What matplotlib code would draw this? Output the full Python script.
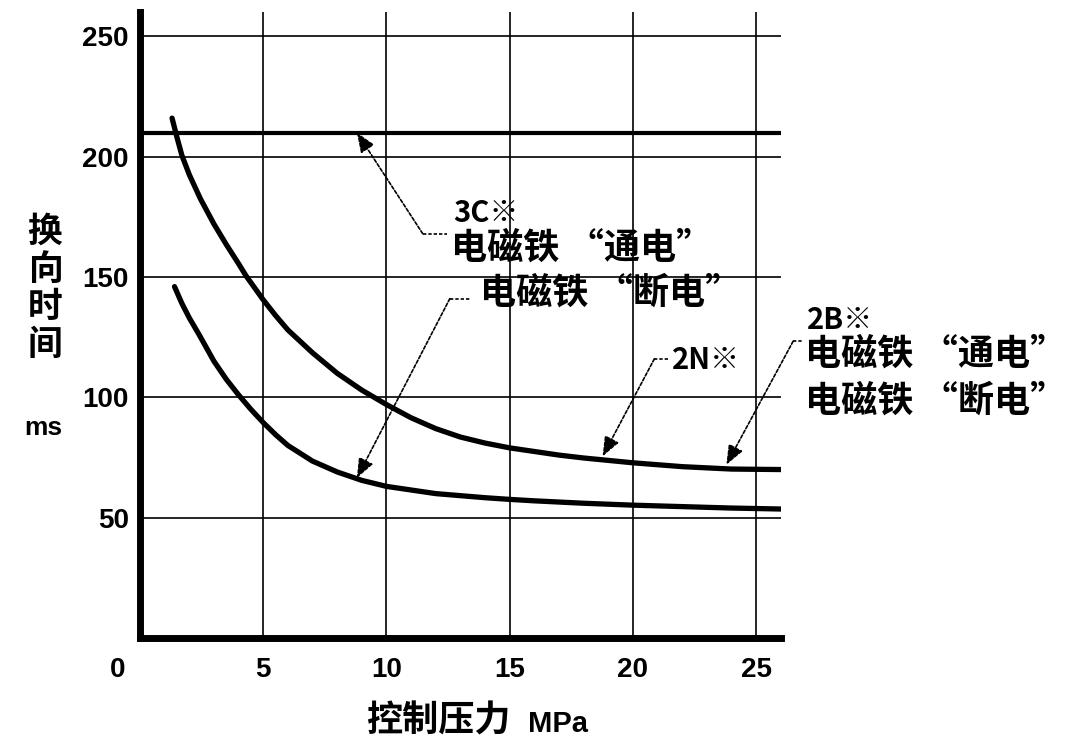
import numpy as np
import matplotlib
matplotlib.use("Agg")
import matplotlib.pyplot as plt
from matplotlib.transforms import ScaledTranslation

# data
x_upper = [1.3, 1.5, 1.7, 2.0, 2.45, 3.0, 3.5, 4.0, 4.3, 5, 5.5, 6, 7, 8, 9, 10, 11, 12, 13, 14,
           15, 16, 17, 18, 20, 22, 24, 26]
y_upper = [216, 208, 200.5, 192.5, 182.5, 172, 163.5, 155.5, 150.5, 140.5, 134, 128, 118.5, 110,
           103, 97, 91.5, 87, 83.5, 81, 79, 77.5, 76, 74.8, 72.8, 71.2, 70.2, 70]
x_lower = [1.4, 1.7, 2, 2.4, 2.7, 3, 3.5, 4, 4.5, 5, 5.5, 6, 7, 8, 9, 10, 11, 12, 14, 15, 16, 18,
           20, 22, 24, 26]
y_lower = [146, 139, 133, 126, 120.5, 115, 107.5, 101, 95, 89.5, 84.5, 80, 73.5, 69, 65.5, 63,
           61.5, 60, 58.3, 57.6, 57, 56, 55.2, 54.6, 54, 53.6]
y_3c = 210

x_ticks = [0, 5, 10, 15, 20, 25]
y_ticks = [50, 100, 150, 200, 250]

CJK = ['Noto Sans CJK SC', 'DejaVu Sans']
NUM = ['Liberation Sans', 'DejaVu Sans']

fig = plt.figure(figsize=(10.77, 7.54), dpi=100)
ax = fig.add_axes([0.130, 0.1538, 0.595, 0.830])

ax.set_xlim(0, 26)
ax.set_ylim(0, 260)

ax.plot([0, 26], [y_3c, y_3c], color='black', lw=3.0, solid_capstyle='butt')
ax.plot(x_upper, y_upper, color='black', lw=3.8, solid_capstyle='round', solid_joinstyle='round')
ax.plot(x_lower, y_lower, color='black', lw=3.8, solid_capstyle='round', solid_joinstyle='round')

ax.set_xticks(x_ticks)
ax.set_yticks(y_ticks)
ax.set_xticklabels([str(v) for v in x_ticks], fontfamily=NUM, fontweight='bold', fontsize=20)
ax.set_yticklabels([str(v) for v in y_ticks], fontfamily=NUM, fontweight='bold', fontsize=20)
ax.tick_params(length=0, pad=8)
ax.tick_params(axis='x', pad=14)
lab0 = ax.get_xticklabels()[0]
lab0.set_transform(lab0.get_transform() + ScaledTranslation(-0.22, 0, fig.dpi_scale_trans))

ax.grid(True, color='black', lw=1.2)
ax.set_axisbelow(True)
for s in ['top', 'right']:
    ax.spines[s].set_visible(False)
for s in ['left', 'bottom']:
    ax.spines[s].set_linewidth(5)

# axis titles
fig.text(45 / 1077, 1 - 288 / 754, "换\n向\n时\n间", fontfamily=CJK, fontweight='bold',
         fontsize=25, ha='center', va='center', linespacing=1.1)
fig.text(43 / 1077, 1 - 428 / 754, "ms", fontfamily=NUM, fontweight='bold', fontsize=19,
         ha='center', va='center')
fig.text(438 / 1077, 1 - 721 / 754, "控制压力", fontfamily=CJK, fontweight='bold',
         fontsize=26, ha='center', va='center')
fig.text(558 / 1077, 1 - 724 / 754, "MPa", fontfamily=NUM, fontweight='bold', fontsize=21,
         ha='center', va='center')


def leader(tip, knee, end):
    ax.plot([knee[0], end[0]], [knee[1], end[1]], color='black', lw=1.2, ls=(0, (2, 1.2)),
            clip_on=False)
    ax.annotate('', xy=tip, xytext=knee, annotation_clip=False,
                arrowprops=dict(arrowstyle='-|>,head_length=1.0,head_width=0.4',
                                mutation_scale=12, color='black', lw=1.2, ls=(0, (2, 1.2)),
                                shrinkA=0, shrinkB=0))


tkw = dict(fontfamily=CJK, fontweight='bold', ha='left', va='center', clip_on=False)

# 3C
leader((8.8, 210), (11.47, 168), (12.45, 168))
ax.text(12.7, 176.5, "3C※", fontsize=21, **tkw)
ax.text(12.6, 162, "电磁铁 “通电”", fontsize=26, **tkw)

# lower curve
leader((8.8, 66.5), (12.57, 141), (13.4, 141))
ax.text(13.8, 143.5, "电磁铁 “断电”", fontsize=26, **tkw)

# 2N
leader((18.77, 75.5), (20.87, 116), (21.45, 116))
ax.text(21.6, 115.5, "2N※", fontsize=21, **tkw)

# 2B
leader((23.79, 72), (26.5, 123.3), (26.9, 123.3))
ax.text(27.07, 132, "2B※", fontsize=21, **tkw)
ax.text(27.0, 118, "电磁铁 “通电”", fontsize=26, **tkw)
ax.text(27.0, 98.3, "电磁铁 “断电”", fontsize=26, **tkw)

fig.savefig("out.png", dpi=100)
